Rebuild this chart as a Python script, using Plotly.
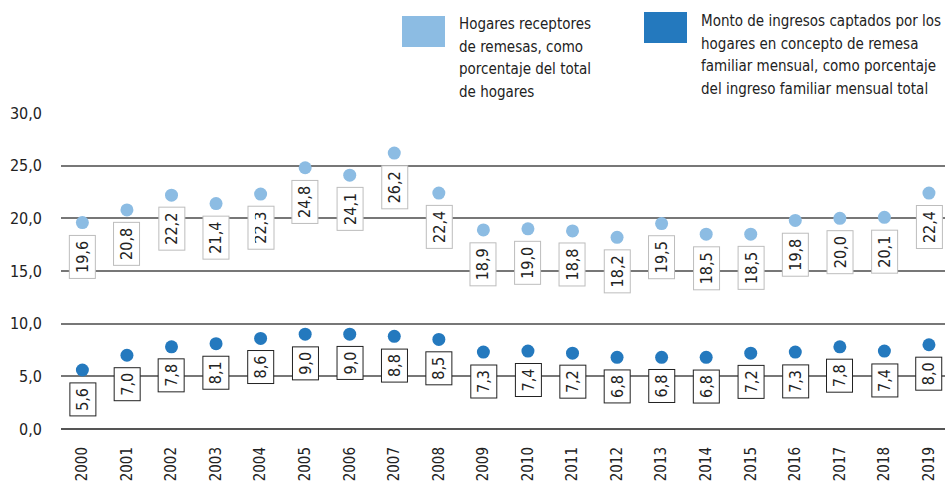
import plotly.graph_objects as go

# datos
anios = list(range(2000, 2020))
hogares_receptores = [19.6, 20.8, 22.2, 21.4, 22.3, 24.8, 24.1, 26.2, 22.4, 18.9,
                      19.0, 18.8, 18.2, 19.5, 18.5, 18.5, 19.8, 20.0, 20.1, 22.4]
monto_ingresos = [5.6, 7.0, 7.8, 8.1, 8.6, 9.0, 9.0, 8.8, 8.5, 7.3,
                  7.4, 7.2, 6.8, 6.8, 6.8, 7.2, 7.3, 7.8, 7.4, 8.0]
nombre_1 = ["Hogares receptores", "de remesas, como", "porcentaje del total", "de hogares"]
nombre_2 = ["Monto de ingresos captados por los", "hogares en concepto de remesa",
            "familiar mensual, como porcentaje", "del ingreso familiar mensual total"]
y_ticks = [0, 5, 10, 15, 20, 25, 30]

FUENTE = "DejaVu Sans Condensed, Liberation Sans Narrow, sans-serif"
CLARO = "#8cbce3"
OSCURO = "#2479be"
TEXTO = "#222222"

W, H = 945, 481
L, R, T, B = 61, 0, 113, 52


def px_x(px):
    return (px - L) / (W - L - R)


def px_y(py):
    return (H - B - py) / (H - T - B)


def fmt(v):
    return f"{v:.1f}".replace(".", ",")


fig = go.Figure()
fig.add_trace(go.Scatter(x=anios, y=hogares_receptores, mode="markers",
                         marker=dict(color=CLARO, size=13), showlegend=False))
fig.add_trace(go.Scatter(x=anios, y=monto_ingresos, mode="markers",
                         marker=dict(color=OSCURO, size=13), showlegend=False))

# etiquetas en cajas bajo cada punto
for serie, borde, ancho in [(hogares_receptores, "#bdbdbd", 38), (monto_ingresos, "#222222", 28)]:
    for a, v in zip(anios, serie):
        fig.add_annotation(x=a, y=v, text=fmt(v), showarrow=False, textangle=-90,
                           xanchor="center", yanchor="top", yshift=-12,
                           width=ancho, height=21, borderpad=2,
                           bgcolor="white", bordercolor=borde, borderwidth=1,
                           font=dict(family=FUENTE, size=16, color=TEXTO))

# leyenda manual
fig.add_shape(type="rect", xref="paper", yref="paper", x0=px_x(402), x1=px_x(445),
              y0=px_y(47), y1=px_y(16), fillcolor=CLARO, line_width=0)
fig.add_shape(type="rect", xref="paper", yref="paper", x0=px_x(644), x1=px_x(687),
              y0=px_y(43), y1=px_y(12), fillcolor=OSCURO, line_width=0)
for lineas, x0, y0 in [(nombre_1, 457, 24), (nombre_2, 699, 21)]:
    for i, linea in enumerate(lineas):
        fig.add_annotation(xref="paper", yref="paper", x=px_x(x0), y=px_y(y0 + i * 22.7),
                           text=linea, showarrow=False, xanchor="left", yanchor="middle",
                           align="left", font=dict(family=FUENTE, size=15, color=TEXTO))

fig.update_xaxes(range=[1999.52, 2019.36], tickvals=anios, ticktext=[str(a) for a in anios],
                 tickangle=-90, showgrid=False, zeroline=False, showline=False,
                 ticks="", ticklabelstandoff=14, automargin=False,
                 tickfont=dict(family=FUENTE, size=15, color=TEXTO))
fig.update_yaxes(range=[0, 30], tickvals=y_ticks, ticktext=[fmt(v) for v in y_ticks],
                 showgrid=True, gridcolor="#777777", gridwidth=1.5,
                 zeroline=True, zerolinecolor="#555555", zerolinewidth=1.5,
                 showline=False, ticks="", ticklabelstandoff=18, automargin=False,
                 tickfont=dict(family=FUENTE, size=16, color=TEXTO))

fig.update_layout(width=W, height=H, margin=dict(l=L, r=R, t=T, b=B),
                  plot_bgcolor="white", paper_bgcolor="white",
                  font=dict(family=FUENTE))

# sin el margen por defecto de la página
fig.write_html("out.html", config={"displayModeBar": False},
               post_script="document.body.style.margin='0';document.body.style.overflow='hidden';")
